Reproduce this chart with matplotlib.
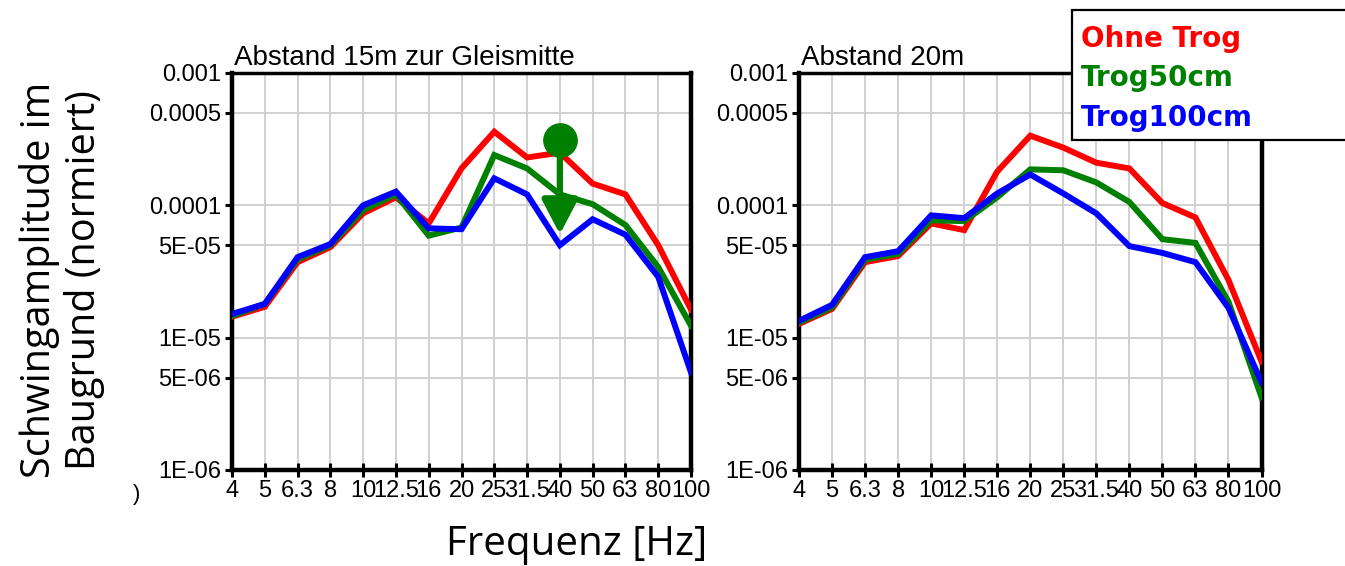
import numpy as np
import matplotlib
matplotlib.use("Agg")
import matplotlib.pyplot as plt
from matplotlib.patches import Rectangle

# data
freq_labels = ['4', '5', '6.3', '8', '10', '12.5', '16', '20', '25', '31.5', '40', '50', '63', '80', '100']
series_names = ['Ohne Trog', 'Trog50cm', 'Trog100cm']
series_colors = ['#ff0000', '#008000', '#0000ff']

# Abstand 15m zur Gleismitte
left_ohne = [1.44e-5, 1.71e-5, 3.72e-5, 4.83e-5, 8.7e-5, 1.15e-4, 7.3e-5, 1.9e-4, 3.6e-4, 2.3e-4, 2.5e-4, 1.46e-4, 1.21e-4, 5.0e-5, 1.63e-5]
left_t50 = [1.46e-5, 1.8e-5, 3.9e-5, 5.0e-5, 9.2e-5, 1.21e-4, 5.9e-5, 6.8e-5, 2.4e-4, 1.9e-4, 1.21e-4, 1.02e-4, 7.1e-5, 3.42e-5, 1.23e-5]
left_t100 = [1.51e-5, 1.8e-5, 4.06e-5, 5.1e-5, 1.0e-4, 1.27e-4, 6.7e-5, 6.6e-5, 1.6e-4, 1.21e-4, 5.0e-5, 7.85e-5, 6.0e-5, 2.88e-5, 5.46e-6]

# Abstand 20m
right_ohne = [1.27e-5, 1.65e-5, 3.72e-5, 4.14e-5, 7.3e-5, 6.5e-5, 1.8e-4, 3.36e-4, 2.73e-4, 2.1e-4, 1.9e-4, 1.04e-4, 8.1e-5, 2.73e-5, 6.6e-6]
right_t50 = [1.3e-5, 1.7e-5, 3.9e-5, 4.3e-5, 7.7e-5, 7.6e-5, 1.15e-4, 1.87e-4, 1.84e-4, 1.49e-4, 1.06e-4, 5.55e-5, 5.2e-5, 1.87e-5, 3.54e-6]
right_t100 = [1.34e-5, 1.77e-5, 4.06e-5, 4.5e-5, 8.4e-5, 8.0e-5, 1.23e-4, 1.71e-4, 1.23e-4, 8.7e-5, 4.92e-5, 4.37e-5, 3.72e-5, 1.68e-5, 4.6e-6]

y_ticks = [1e-6, 5e-6, 1e-5, 5e-5, 1e-4, 5e-4, 1e-3]
y_ticklabels = ['1E-06', '5E-06', '1E-05', '5E-05', '0.0001', '0.0005', '0.001']

# marker in left panel: circle at 40 Hz, arrow down
mark_idx = 10
mark_from = 3.12e-4
mark_to = 6.05e-5

tick_font = 'Liberation Sans'
W, H = 1345, 566

fig = plt.figure(figsize=(W / 100, H / 100), dpi=100)

def fx(px):
    return px / W

def fy(py):
    return 1 - py / H

ax_l = fig.add_axes([fx(232), fy(470), fx(691 - 232), (470 - 73) / H])
ax_r = fig.add_axes([fx(799), fy(470), fx(1261.5 - 799), (470 - 73) / H])

x = np.arange(len(freq_labels))
panels = [
    (ax_l, [left_ohne, left_t50, left_t100], 'Abstand 15m zur Gleismitte'),
    (ax_r, [right_ohne, right_t50, right_t100], 'Abstand 20m'),
]

for ax, data, title in panels:
    ax.set_yscale('log')
    ax.set_ylim(1e-6, 1e-3)
    ax.set_xlim(0, len(freq_labels) - 1)
    for vals, col in zip(data, series_colors):
        ax.plot(x, vals, color=col, lw=4.3, solid_joinstyle='miter', zorder=3)
    ax.set_yticks(y_ticks)
    ax.set_yticklabels(y_ticklabels, fontfamily=tick_font, fontsize=17)
    ax.yaxis.set_minor_locator(matplotlib.ticker.NullLocator())
    ax.set_xticks(x)
    ax.set_xticklabels(freq_labels, fontfamily=tick_font, fontsize=17)
    ax.tick_params(axis='x', direction='inout', length=10.5, width=2.2, pad=2)
    ax.tick_params(axis='y', direction='out', length=5, width=2.2, pad=3)
    ax.grid(True, color='#d0d0d0', lw=1.4, zorder=0)
    ax.set_axisbelow(True)
    for side in ['left', 'right', 'bottom']:
        ax.spines[side].set_linewidth(3.2)
    ax.spines['top'].set_linewidth(2.5)
    ax.text(0.005, 1.02, title, transform=ax.transAxes, ha='left', va='baseline',
            fontfamily=tick_font, fontsize=20)

# circle + arrow on the left panel
ax_l.annotate('', xy=(mark_idx, mark_to), xytext=(mark_idx, mark_from),
              arrowprops=dict(arrowstyle='-|>,head_length=21,head_width=11',
                              mutation_scale=1, color='#008000', lw=4.5,
                              shrinkA=0, shrinkB=0), zorder=5)
ax_l.plot([mark_idx], [mark_from], 'o', color='#008000', ms=24, zorder=6)

# legend box (runs past the right edge like the original)
fig.patches.append(Rectangle((fx(1072), fy(140)), fx(400), (140 - 10) / H,
                             transform=fig.transFigure, facecolor='white',
                             edgecolor='black', lw=1.6, zorder=10))
for i, (name, col) in enumerate(zip(series_names, series_colors)):
    fig.text(fx(1081), fy(47 + 39.5 * i), name, color=col, fontsize=20,
             fontweight='bold', fontfamily='DejaVu Sans', ha='left',
             va='baseline', zorder=11)

# axis titles
fig.text(fx(62), fy(280), 'Schwingamplitude im\nBaugrund (normiert)', rotation=90,
         ha='center', va='center', multialignment='center',
         fontfamily='Open Sans', fontsize=28.5, linespacing=1.15)
fig.text(fx(577), fy(555), 'Frequenz [Hz]', ha='center', va='baseline',
         fontfamily='Open Sans', fontsize=29)

# stray clipped label seen in the source image
fig.text(fx(133), fy(484), ')', ha='left', va='top', fontfamily=tick_font, fontsize=16)

fig.savefig('out.png', dpi=100, facecolor='white')
